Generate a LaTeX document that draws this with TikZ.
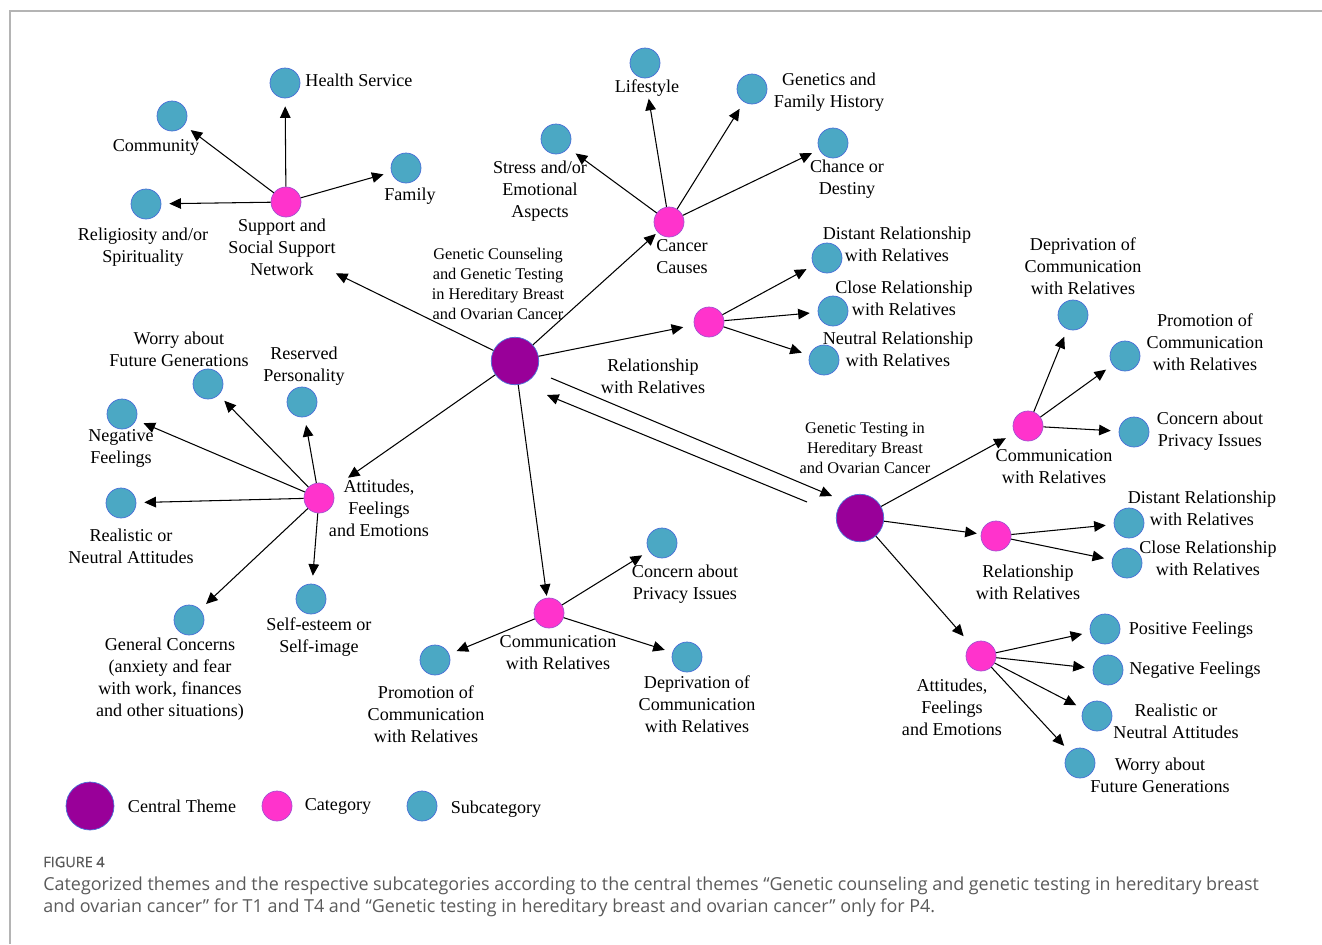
\documentclass[tikz,border=0pt]{standalone}
\usepackage{fontspec}
\setmainfont{Liberation Serif}
\newfontfamily\capfont{Open Sans}
\newfontfamily\capsemi[FakeBold=0.6]{Open Sans}
\usetikzlibrary{arrows.meta,positioning}

\definecolor{themepurple}{HTML}{990099}
\definecolor{catpink}{HTML}{FF33CC}
\definecolor{subteal}{HTML}{4BA8C4}
\definecolor{rimblue}{HTML}{4A6FD8}
\definecolor{capgray}{HTML}{5A5A5A}
\definecolor{framegray}{HTML}{B4B4B4}

\begin{document}
\begin{tikzpicture}[
  x=0.02cm, y=-0.02cm,
  cen/.style={circle, draw=rimblue, fill=themepurple, minimum size=0.95cm, inner sep=0pt, line width=0.4pt},
  cat/.style={circle, draw=rimblue!50!catpink, fill=catpink, minimum size=0.6cm, inner sep=0pt, line width=0.4pt},
  sub/.style={circle, draw=rimblue, fill=subteal, minimum size=0.6cm, inner sep=0pt, line width=0.4pt},
  txt/.style={font=\fontsize{10.3}{12.5}\selectfont, align=center, inner sep=0pt},
  ctxt/.style={font=\fontsize{9.3}{11.3}\selectfont, align=center, inner sep=0pt},
  arr/.style={->, >={Triangle[length=6.6pt,width=6pt]}, line width=0.6pt, shorten >=0.16cm}
]
\useasboundingbox (0,0) rectangle (1322,944);
\draw[framegray, line width=0.8pt] (10,944) -- (10,11) -- (1322,11);

% central themes
\node[cen] (gc) at (515,361) {};
\node[ctxt] (gclab) at (498,284) {Genetic Counseling\\and Genetic Testing\\in Hereditary Breast\\and Ovarian Cancer};
\node[cen] (gt) at (860,518) {};
\node[ctxt] (gtlab) at (865,448) {Genetic Testing in\\Hereditary Breast\\and Ovarian Cancer};

% categories
\node[cat] (sup) at (286,202) {};
\node[txt] (suplab) at (282,247) {Support and\\Social Support\\Network};
\node[cat] (cau) at (669,222) {};
\node[txt] (caulab) at (682,257) {Cancer\\Causes};
\node[cat] (rel) at (709,322) {};
\node[txt] (rellab) at (653,376) {Relationship\\with Relatives};
\node[cat] (att) at (319,498) {};
\node[txt] (attlab) at (379,508) {Attitudes,\\Feelings\\and Emotions};
\node[cat] (com) at (549,613) {};
\node[txt] (comlab) at (558,653) {Communication\\with Relatives};
\node[cat] (comb) at (1028,426) {};
\node[txt] (comblab) at (1054,467) {Communication\\with Relatives};
\node[cat] (relb) at (996,536) {};
\node[txt] (relblab) at (1028,582) {Relationship\\with Relatives};
\node[cat] (attb) at (981,656) {};
\node[txt] (attblab) at (952,707) {Attitudes,\\Feelings\\and Emotions};

% support
\node[sub] (hea) at (285,83) {};
\node[txt] (healab) at (359,80) {Health Service};
\node[sub] (cmy) at (172,116) {};
\node[txt] (cmylab) at (156,147) {Community};
\node[sub] (fam) at (406,168) {};
\node[txt] (famlab) at (410,196) {Family};
\node[sub] (rlg) at (146,204) {};
\node[txt] (rlglab) at (143,247) {Religiosity and/or\\Spirituality};

% cancer causes
\node[sub] (lif) at (645,63) {};
\node[txt] (liflab) at (647,88) {Lifestyle};
\node[sub] (gen) at (752,89) {};
\node[txt] (genlab) at (829,92) {Genetics and\\Family History};
\node[sub] (str) at (556,139) {};
\node[txt] (strlab) at (540,191) {Stress and/or\\Emotional\\Aspects};
\node[sub] (chn) at (833,143) {};
\node[txt] (chnlab) at (847,179) {Chance or\\Destiny};

% relationship
\node[sub] (dis) at (827,258) {};
\node[txt] (dislab) at (897,244) {Distant Relationship\\with Relatives};
\node[sub] (clo) at (833,311) {};
\node[txt] (clolab) at (904,298) {Close Relationship\\with Relatives};
\node[sub] (neu) at (824,360) {};
\node[txt] (neulab) at (898,349) {Neutral Relationship\\with Relatives};

% attitudes
\node[sub] (wor) at (208,384) {};
\node[txt] (worlab) at (179,349) {Worry about\\Future Generations};
\node[sub] (rsv) at (302,402) {};
\node[txt] (rsvlab) at (304,366) {Reserved\\Personality};
\node[sub] (neg) at (122,414) {};
\node[txt] (neglab) at (121,448) {Negative\\Feelings};
\node[sub] (rea) at (121,503) {};
\node[txt] (realab) at (131,546) {Realistic or\\Neutral Attitudes};
\node[sub] (gcn) at (189,620) {};
\node[txt] (gcnlab) at (170,679) {General Concerns\\(anxiety and fear\\with work, finances\\and other situations)};
\node[sub] (slf) at (311,599) {};
\node[txt] (slflab) at (319,637) {Self-esteem or\\Self-image};

% communication
\node[sub] (pri) at (662,543) {};
\node[txt] (prilab) at (685,584) {Concern about\\Privacy Issues};
\node[sub] (pro) at (435,660) {};
\node[txt] (prolab) at (426,714) {Promotion of\\Communication\\with Relatives};
\node[sub] (dep) at (687,657) {};
\node[txt] (deplab) at (697,704) {Deprivation of\\Communication\\with Relatives};

% second theme
\node[sub] (depb) at (1073,315) {};
\node[txt] (depblab) at (1083,266) {Deprivation of\\Communication\\with Relatives};
\node[sub] (prob) at (1125,356) {};
\node[txt] (problab) at (1205,342) {Promotion of\\Communication\\with Relatives};
\node[sub] (prib) at (1134,432) {};
\node[txt] (priblab) at (1210,431) {Concern about\\Privacy Issues};
\node[sub] (disb) at (1129,523) {};
\node[txt] (disblab) at (1202,508) {Distant Relationship\\with Relatives};
\node[sub] (clob) at (1127,563) {};
\node[txt] (cloblab) at (1208,558) {Close Relationship\\with Relatives};
\node[sub] (pos) at (1105,629) {};
\node[txt] (poslab) at (1191,630) {Positive Feelings};
\node[sub] (negb) at (1108,670) {};
\node[txt] (negblab) at (1195,670) {Negative Feelings};
\node[sub] (reab) at (1097,716) {};
\node[txt] (reablab) at (1176,721) {Realistic or\\Neutral Attitudes};
\node[sub] (worb) at (1080,763) {};
\node[txt] (worblab) at (1160,775) {Worry about\\Future Generations};

% theme to categories
\draw[arr, shorten >=0pt] (gc) -- (suplab);
\draw[arr, shorten >=0.05cm] (gc) -- (cau);
\draw[arr, shorten >=0.22cm] (gc) -- (rel);
\draw[arr, shorten >=0.4cm] (gc) -- (att);
\draw[arr, shorten >=0.04cm] (gc) -- (com);
\draw[arr, shorten >=0.2cm] (gt) -- (comb);
\draw[arr, shorten >=0.08cm] (gt) -- (relb);
\draw[arr, shorten >=0.22cm] (gt) -- (attb);
\draw[arr, shorten >=0pt] ([shift={(36,17)}]gc.center) -- ([shift={(-28,-22)}]gt.center);
\draw[arr, shorten >=0pt] ([shift={(-53,-16)}]gt.center) -- ([shift={(32,34)}]gc.center);

% categories to subcategories
\foreach \s in {hea,cmy,fam,rlg} \draw[arr] (sup) -- (\s);
\draw[arr, shorten >=0.04cm] (cau) -- (liflab);
\draw[arr, shorten >=0.18cm] (cau) -- (str);
\foreach \s in {gen,chn} \draw[arr] (cau) -- (\s);
\foreach \s in {dis,clo,neu} \draw[arr] (rel) -- (\s);
\foreach \s in {wor,rsv,neg,rea,gcn,slf} \draw[arr] (att) -- (\s);
\foreach \s in {pri,pro,dep} \draw[arr] (com) -- (\s);
\foreach \s in {depb,prob,prib} \draw[arr] (comb) -- (\s);
\foreach \s in {disb,clob} \draw[arr] (relb) -- (\s);
\foreach \s in {pos,negb,reab,worb} \draw[arr] (attb) -- (\s);

% legend
\node[cen, minimum size=0.96cm] (keycen) at (90,806) {};
\node[txt] (keycenlab) at (182,806) {Central Theme};
\node[cat] (keycat) at (277,806) {};
\node[txt] (keycatlab) at (338,806) {Category};
\node[sub] (keysub) at (422,806) {};
\node[txt] (keysublab) at (496,809) {Subcategory};

% caption
\node[anchor=west, inner sep=0pt, text=capgray, font=\capsemi\fontsize{8.2}{9}\selectfont] (fignum) at (43,862) {FIGURE 4};
\node[anchor=west, inner sep=0pt, align=left, text=capgray, font=\capfont\fontsize{10.2}{12.5}\selectfont] (figcap) at (43,897) {Categorized themes and the respective subcategories according to the central themes “Genetic counseling and genetic testing in hereditary breast\\and ovarian cancer” for T1 and T4 and “Genetic testing in hereditary breast and ovarian cancer” only for P4.};
\end{tikzpicture}
\end{document}
